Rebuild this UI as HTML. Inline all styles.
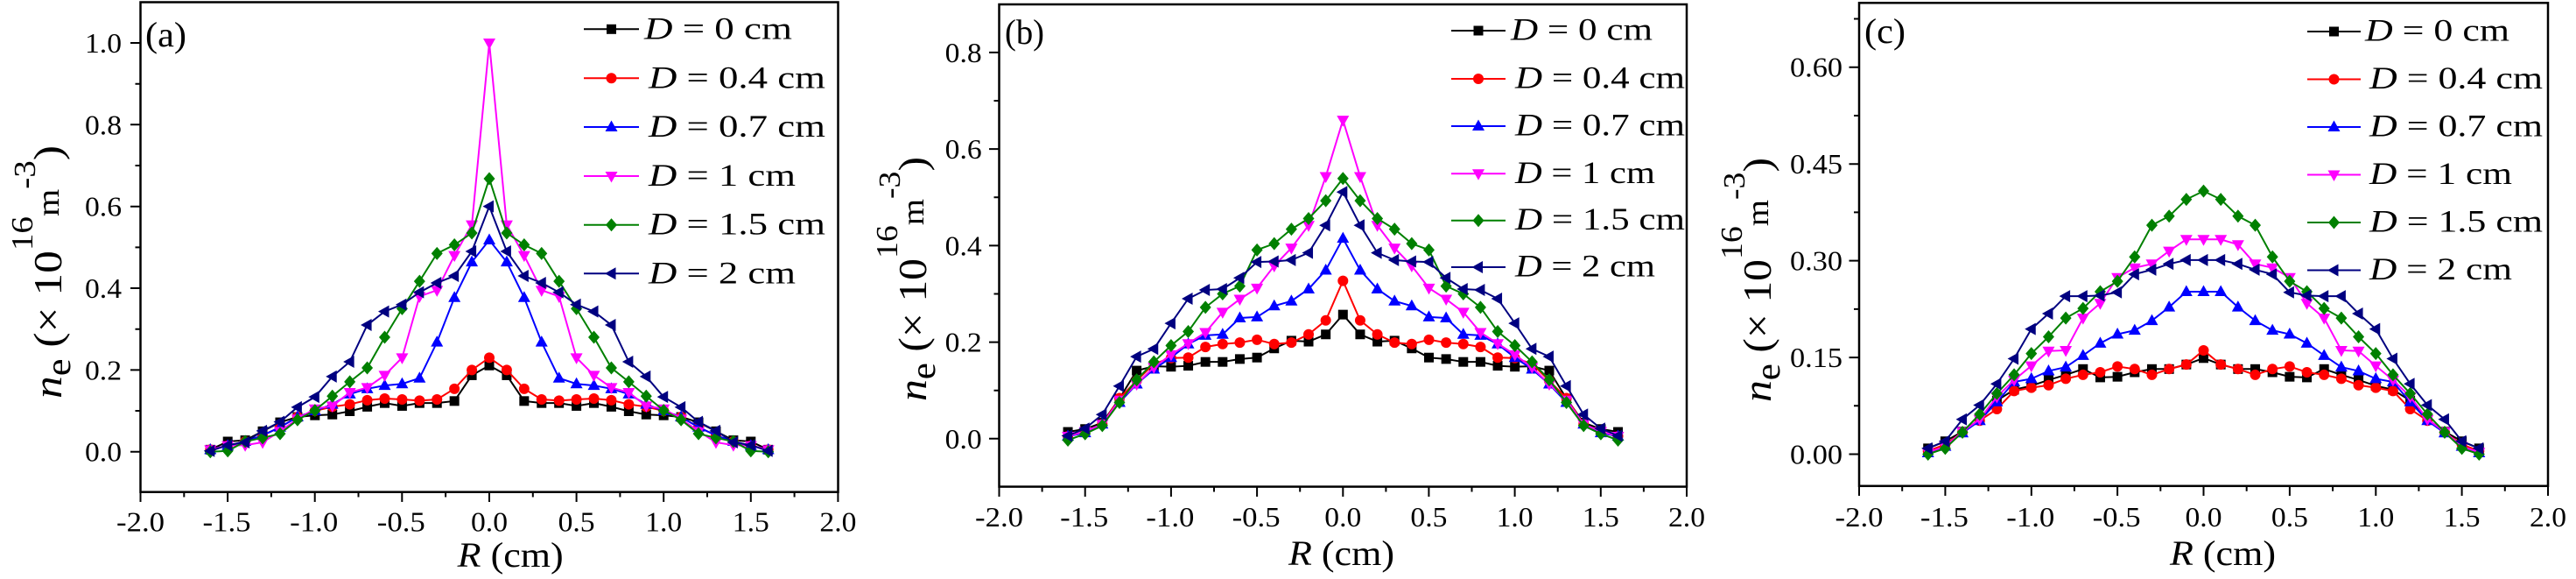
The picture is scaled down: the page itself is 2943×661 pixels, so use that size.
<!DOCTYPE html>
<html><head><meta charset="utf-8"><style>
html,body{margin:0;padding:0;background:#fff;}
svg{display:block;font-family:"Liberation Serif","Times New Roman",serif;}
svg text{font-family:"Liberation Serif","Times New Roman",serif;}
</style></head><body>
<svg width="2943" height="661" viewBox="0 0 2943 661" xmlns="http://www.w3.org/2000/svg" font-family="Liberation Serif, Times New Roman, serif">
<defs>
<rect id="sq" x="-5.5" y="-5.5" width="11" height="11"/>
<circle id="ci" r="6"/>
<path id="tu" d="M0,-7.5L7,5L-7,5Z"/>
<path id="td" d="M0,7.5L7,-5L-7,-5Z"/>
<path id="di" d="M0,-7.5L6.5,0L0,7.5L-6.5,0Z"/>
<path id="tl" d="M-7.5,0L5,-7L5,7Z"/>
<g id="aS" transform="scale(0.050201,-2.1427)"><use href="#sq"/></g>
<g id="aC" transform="scale(0.050201,-2.1427)"><use href="#ci"/></g>
<g id="aU" transform="scale(0.050201,-2.1427)"><use href="#tu"/></g>
<g id="aD" transform="scale(0.050201,-2.1427)"><use href="#td"/></g>
<g id="aM" transform="scale(0.050201,-2.1427)"><use href="#di"/></g>
<g id="aL" transform="scale(0.050201,-2.1427)"><use href="#tl"/></g>
<g id="bS" transform="scale(0.050916,-1.81455)"><use href="#sq"/></g>
<g id="bC" transform="scale(0.050916,-1.81455)"><use href="#ci"/></g>
<g id="bU" transform="scale(0.050916,-1.81455)"><use href="#tu"/></g>
<g id="bD" transform="scale(0.050916,-1.81455)"><use href="#td"/></g>
<g id="bM" transform="scale(0.050916,-1.81455)"><use href="#di"/></g>
<g id="bL" transform="scale(0.050916,-1.81455)"><use href="#tl"/></g>
<g id="cS" transform="scale(0.050826,-1.35814)"><use href="#sq"/></g>
<g id="cC" transform="scale(0.050826,-1.35814)"><use href="#ci"/></g>
<g id="cU" transform="scale(0.050826,-1.35814)"><use href="#tu"/></g>
<g id="cD" transform="scale(0.050826,-1.35814)"><use href="#td"/></g>
<g id="cM" transform="scale(0.050826,-1.35814)"><use href="#di"/></g>
<g id="cL" transform="scale(0.050826,-1.35814)"><use href="#tl"/></g>
</defs>
<rect width="2943" height="661" fill="#fff"/>

<!-- ================= PANEL A ================= -->
<g stroke="#000" fill="none" stroke-width="2.5">
<rect x="160.5" y="2.5" width="797" height="559.2"/>
<path d="M160.5,561.7V573M260.1,561.7V573M359.7,561.7V573M459.3,561.7V573M559,561.7V573M658.6,561.7V573M758.2,561.7V573M857.8,561.7V573M957.4,561.7V573" stroke-width="2"/>
<path d="M210.3,561.7V567.5M309.9,561.7V567.5M409.5,561.7V567.5M509.1,561.7V567.5M608.8,561.7V567.5M708.4,561.7V567.5M808,561.7V567.5M907.6,561.7V567.5" stroke-width="2"/>
<path d="M149,515.7H160.5M149,422.4H160.5M149,329H160.5M149,235.7H160.5M149,142.3H160.5M149,49H160.5" stroke-width="2"/>
<path d="M154.5,469H160.5M154.5,375.7H160.5M154.5,282.4H160.5M154.5,189H160.5M154.5,95.7H160.5" stroke-width="2"/>
</g>
<g font-size="32" fill="#000" text-anchor="middle" font-family="Liberation Serif, serif">
<text x="160.5" y="606.7" textLength="55" lengthAdjust="spacingAndGlyphs">-2.0</text>
<text x="259" y="606.7" textLength="55" lengthAdjust="spacingAndGlyphs">-1.5</text>
<text x="358.7" y="606.7" textLength="55" lengthAdjust="spacingAndGlyphs">-1.0</text>
<text x="458.3" y="606.7" textLength="55" lengthAdjust="spacingAndGlyphs">-0.5</text>
<text x="559" y="606.7" textLength="42" lengthAdjust="spacingAndGlyphs">0.0</text>
<text x="658.6" y="606.7" textLength="42" lengthAdjust="spacingAndGlyphs">0.5</text>
<text x="758.2" y="606.7" textLength="42" lengthAdjust="spacingAndGlyphs">1.0</text>
<text x="857.8" y="606.7" textLength="42" lengthAdjust="spacingAndGlyphs">1.5</text>
<text x="957.4" y="606.7" textLength="42" lengthAdjust="spacingAndGlyphs">2.0</text>
</g>
<g font-size="32" fill="#000" text-anchor="end" font-family="Liberation Serif, serif">
<text x="139" y="526.7" textLength="42" lengthAdjust="spacingAndGlyphs">0.0</text>
<text x="139" y="433.4" textLength="42" lengthAdjust="spacingAndGlyphs">0.2</text>
<text x="139" y="340" textLength="42" lengthAdjust="spacingAndGlyphs">0.4</text>
<text x="139" y="246.7" textLength="42" lengthAdjust="spacingAndGlyphs">0.6</text>
<text x="139" y="153.3" textLength="42" lengthAdjust="spacingAndGlyphs">0.8</text>
<text x="139" y="60" textLength="42" lengthAdjust="spacingAndGlyphs">1.0</text>
</g>
<g font-family="Liberation Serif, serif" fill="#000">
<text x="166" y="53" font-size="40" textLength="47" lengthAdjust="spacingAndGlyphs">(a)</text>
<text x="522.7" y="647" font-size="40" textLength="121" lengthAdjust="spacingAndGlyphs"><tspan font-style="italic">R</tspan> (cm)</text>
<text transform="translate(70,455) rotate(-90)" font-size="46" textLength="289" lengthAdjust="spacingAndGlyphs"><tspan font-style="italic">n</tspan><tspan dy="10" font-size="40">e</tspan><tspan dy="-10"> (× 10</tspan><tspan dy="-33" font-size="35">16</tspan><tspan dy="30" font-size="36">m</tspan><tspan dy="-27" font-size="35">-3</tspan><tspan dy="30">)</tspan></text>
</g>

<g transform="translate(559,515.7) scale(19.92,-0.4667)">
<g fill="#000"><polyline fill="none" stroke="#000" stroke-width="2" vector-effect="non-scaling-stroke" points="-16,5 -15,25 -14,28 -13,50 -12,72 -11,85 -10,89 -9,91 -8,99 -7,110 -6,119 -5,112 -4,119 -3,119 -2,124 -1,187 0,211 1,187 2,124 3,119 4,119 5,112 6,119 7,110 8,99 9,91 10,89 11,85 12,72 13,50 14,28 15,25 16,5"/>
<use href="#aS" x="-16" y="5"/><use href="#aS" x="-15" y="25"/><use href="#aS" x="-14" y="28"/><use href="#aS" x="-13" y="50"/><use href="#aS" x="-12" y="72"/><use href="#aS" x="-11" y="85"/><use href="#aS" x="-10" y="89"/><use href="#aS" x="-9" y="91"/><use href="#aS" x="-8" y="99"/><use href="#aS" x="-7" y="110"/><use href="#aS" x="-6" y="119"/><use href="#aS" x="-5" y="112"/><use href="#aS" x="-4" y="119"/><use href="#aS" x="-3" y="119"/><use href="#aS" x="-2" y="124"/><use href="#aS" x="-1" y="187"/><use href="#aS" x="0" y="211"/><use href="#aS" x="1" y="187"/><use href="#aS" x="2" y="124"/><use href="#aS" x="3" y="119"/><use href="#aS" x="4" y="119"/><use href="#aS" x="5" y="112"/><use href="#aS" x="6" y="119"/><use href="#aS" x="7" y="110"/><use href="#aS" x="8" y="99"/><use href="#aS" x="9" y="91"/><use href="#aS" x="10" y="89"/><use href="#aS" x="11" y="85"/><use href="#aS" x="12" y="72"/><use href="#aS" x="13" y="50"/><use href="#aS" x="14" y="28"/><use href="#aS" x="15" y="25"/><use href="#aS" x="16" y="5"/></g>
<g fill="#ff0000"><polyline fill="none" stroke="#ff0000" stroke-width="2" vector-effect="non-scaling-stroke" points="-16,5 -15,15 -14,25 -13,40 -12,60 -11,85 -10,100 -9,110 -8,116 -7,126 -6,130 -5,128 -4,125 -3,128 -2,154 -1,200 0,230 1,200 2,154 3,128 4,125 5,128 6,130 7,126 8,116 9,110 10,100 11,85 12,60 13,40 14,25 15,15 16,5"/>
<use href="#aC" x="-16" y="5"/><use href="#aC" x="-15" y="15"/><use href="#aC" x="-14" y="25"/><use href="#aC" x="-13" y="40"/><use href="#aC" x="-12" y="60"/><use href="#aC" x="-11" y="85"/><use href="#aC" x="-10" y="100"/><use href="#aC" x="-9" y="110"/><use href="#aC" x="-8" y="116"/><use href="#aC" x="-7" y="126"/><use href="#aC" x="-6" y="130"/><use href="#aC" x="-5" y="128"/><use href="#aC" x="-4" y="125"/><use href="#aC" x="-3" y="128"/><use href="#aC" x="-2" y="154"/><use href="#aC" x="-1" y="200"/><use href="#aC" x="0" y="230"/><use href="#aC" x="1" y="200"/><use href="#aC" x="2" y="154"/><use href="#aC" x="3" y="128"/><use href="#aC" x="4" y="125"/><use href="#aC" x="5" y="128"/><use href="#aC" x="6" y="130"/><use href="#aC" x="7" y="126"/><use href="#aC" x="8" y="116"/><use href="#aC" x="9" y="110"/><use href="#aC" x="10" y="100"/><use href="#aC" x="11" y="85"/><use href="#aC" x="12" y="60"/><use href="#aC" x="13" y="40"/><use href="#aC" x="14" y="25"/><use href="#aC" x="15" y="15"/><use href="#aC" x="16" y="5"/></g>
<g fill="#0000ff"><polyline fill="none" stroke="#0000ff" stroke-width="2" vector-effect="non-scaling-stroke" points="-16,5 -15,15 -14,25 -13,40 -12,60 -11,85 -10,100 -9,116 -8,141 -7,154 -6,162 -5,166 -4,180 -3,268 -2,377 -1,464 0,518 1,464 2,377 3,268 4,180 5,166 6,162 7,154 8,141 9,116 10,100 11,85 12,60 13,40 14,25 15,15 16,5"/>
<use href="#aU" x="-16" y="5"/><use href="#aU" x="-15" y="15"/><use href="#aU" x="-14" y="25"/><use href="#aU" x="-13" y="40"/><use href="#aU" x="-12" y="60"/><use href="#aU" x="-11" y="85"/><use href="#aU" x="-10" y="100"/><use href="#aU" x="-9" y="116"/><use href="#aU" x="-8" y="141"/><use href="#aU" x="-7" y="154"/><use href="#aU" x="-6" y="162"/><use href="#aU" x="-5" y="166"/><use href="#aU" x="-4" y="180"/><use href="#aU" x="-3" y="268"/><use href="#aU" x="-2" y="377"/><use href="#aU" x="-1" y="464"/><use href="#aU" x="0" y="518"/><use href="#aU" x="1" y="464"/><use href="#aU" x="2" y="377"/><use href="#aU" x="3" y="268"/><use href="#aU" x="4" y="180"/><use href="#aU" x="5" y="166"/><use href="#aU" x="6" y="162"/><use href="#aU" x="7" y="154"/><use href="#aU" x="8" y="141"/><use href="#aU" x="9" y="116"/><use href="#aU" x="10" y="100"/><use href="#aU" x="11" y="85"/><use href="#aU" x="12" y="60"/><use href="#aU" x="13" y="40"/><use href="#aU" x="14" y="25"/><use href="#aU" x="15" y="15"/><use href="#aU" x="16" y="5"/></g>
<g fill="#ff00ff"><polyline fill="none" stroke="#ff00ff" stroke-width="2" vector-effect="non-scaling-stroke" points="-16,5 -15,15 -14,16 -13,23 -12,50 -11,80 -10,105 -9,112 -8,145 -7,157 -6,187 -5,230 -4,380 -3,395 -2,480 -1,555 0,1000 1,555 2,480 3,395 4,380 5,230 6,187 7,157 8,145 9,112 10,105 11,80 12,50 13,23 14,16 15,15 16,5"/>
<use href="#aD" x="-16" y="5"/><use href="#aD" x="-15" y="15"/><use href="#aD" x="-14" y="16"/><use href="#aD" x="-13" y="23"/><use href="#aD" x="-12" y="50"/><use href="#aD" x="-11" y="80"/><use href="#aD" x="-10" y="105"/><use href="#aD" x="-9" y="112"/><use href="#aD" x="-8" y="145"/><use href="#aD" x="-7" y="157"/><use href="#aD" x="-6" y="187"/><use href="#aD" x="-5" y="230"/><use href="#aD" x="-4" y="380"/><use href="#aD" x="-3" y="395"/><use href="#aD" x="-2" y="480"/><use href="#aD" x="-1" y="555"/><use href="#aD" x="0" y="1000"/><use href="#aD" x="1" y="555"/><use href="#aD" x="2" y="480"/><use href="#aD" x="3" y="395"/><use href="#aD" x="4" y="380"/><use href="#aD" x="5" y="230"/><use href="#aD" x="6" y="187"/><use href="#aD" x="7" y="157"/><use href="#aD" x="8" y="145"/><use href="#aD" x="9" y="112"/><use href="#aD" x="10" y="105"/><use href="#aD" x="11" y="80"/><use href="#aD" x="12" y="50"/><use href="#aD" x="13" y="23"/><use href="#aD" x="14" y="16"/><use href="#aD" x="15" y="15"/><use href="#aD" x="16" y="5"/></g>
<g fill="#008000"><polyline fill="none" stroke="#008000" stroke-width="2" vector-effect="non-scaling-stroke" points="-16,0 -15,2 -14,25 -13,34 -12,44 -11,78 -10,101 -9,136 -8,171 -7,205 -6,280 -5,350 -4,417 -3,485 -2,506 -1,535 0,668 1,535 2,506 3,485 4,417 5,350 6,280 7,205 8,171 9,136 10,101 11,78 12,44 13,34 14,25 15,2 16,0"/>
<use href="#aM" x="-16" y="0"/><use href="#aM" x="-15" y="2"/><use href="#aM" x="-14" y="25"/><use href="#aM" x="-13" y="34"/><use href="#aM" x="-12" y="44"/><use href="#aM" x="-11" y="78"/><use href="#aM" x="-10" y="101"/><use href="#aM" x="-9" y="136"/><use href="#aM" x="-8" y="171"/><use href="#aM" x="-7" y="205"/><use href="#aM" x="-6" y="280"/><use href="#aM" x="-5" y="350"/><use href="#aM" x="-4" y="417"/><use href="#aM" x="-3" y="485"/><use href="#aM" x="-2" y="506"/><use href="#aM" x="-1" y="535"/><use href="#aM" x="0" y="668"/><use href="#aM" x="1" y="535"/><use href="#aM" x="2" y="506"/><use href="#aM" x="3" y="485"/><use href="#aM" x="4" y="417"/><use href="#aM" x="5" y="350"/><use href="#aM" x="6" y="280"/><use href="#aM" x="7" y="205"/><use href="#aM" x="8" y="171"/><use href="#aM" x="9" y="136"/><use href="#aM" x="10" y="101"/><use href="#aM" x="11" y="78"/><use href="#aM" x="12" y="44"/><use href="#aM" x="13" y="34"/><use href="#aM" x="14" y="25"/><use href="#aM" x="15" y="2"/><use href="#aM" x="16" y="0"/></g>
<g fill="#000080"><polyline fill="none" stroke="#000080" stroke-width="2" vector-effect="non-scaling-stroke" points="-16,2 -15,16 -14,23 -13,51 -12,73 -11,109 -10,134 -9,184 -8,220 -7,310 -6,343 -5,360 -4,390 -3,413 -2,430 -1,490 0,600 1,490 2,430 3,413 4,390 5,360 6,343 7,310 8,220 9,184 10,134 11,109 12,73 13,51 14,23 15,16 16,2"/>
<use href="#aL" x="-16" y="2"/><use href="#aL" x="-15" y="16"/><use href="#aL" x="-14" y="23"/><use href="#aL" x="-13" y="51"/><use href="#aL" x="-12" y="73"/><use href="#aL" x="-11" y="109"/><use href="#aL" x="-10" y="134"/><use href="#aL" x="-9" y="184"/><use href="#aL" x="-8" y="220"/><use href="#aL" x="-7" y="310"/><use href="#aL" x="-6" y="343"/><use href="#aL" x="-5" y="360"/><use href="#aL" x="-4" y="390"/><use href="#aL" x="-3" y="413"/><use href="#aL" x="-2" y="430"/><use href="#aL" x="-1" y="490"/><use href="#aL" x="0" y="600"/><use href="#aL" x="1" y="490"/><use href="#aL" x="2" y="430"/><use href="#aL" x="3" y="413"/><use href="#aL" x="4" y="390"/><use href="#aL" x="5" y="360"/><use href="#aL" x="6" y="343"/><use href="#aL" x="7" y="310"/><use href="#aL" x="8" y="220"/><use href="#aL" x="9" y="184"/><use href="#aL" x="10" y="134"/><use href="#aL" x="11" y="109"/><use href="#aL" x="12" y="73"/><use href="#aL" x="13" y="51"/><use href="#aL" x="14" y="23"/><use href="#aL" x="15" y="16"/><use href="#aL" x="16" y="2"/></g>
</g>

<!-- legend A -->
<g stroke-width="2">
<line x1="667" y1="33.3" x2="730" y2="33.3" stroke="#000"/>
<line x1="667" y1="89.3" x2="730" y2="89.3" stroke="#ff0000"/>
<line x1="667" y1="145" x2="730" y2="145" stroke="#0000ff"/>
<line x1="667" y1="201" x2="730" y2="201" stroke="#ff00ff"/>
<line x1="667" y1="256.7" x2="730" y2="256.7" stroke="#008000"/>
<line x1="667" y1="312.3" x2="730" y2="312.3" stroke="#000080"/>
</g>
<use href="#sq" x="698.5" y="33.3" fill="#000"/>
<use href="#ci" x="698.5" y="89.3" fill="#ff0000"/>
<use href="#tu" x="698.5" y="145" fill="#0000ff"/>
<use href="#td" x="698.5" y="201" fill="#ff00ff"/>
<use href="#di" x="698.5" y="256.7" fill="#008000"/>
<use href="#tl" x="698.5" y="312.3" fill="#000080"/>
<g font-size="36" fill="#000" font-family="Liberation Serif, serif">
<text x="736" y="44.3" textLength="169" lengthAdjust="spacingAndGlyphs"><tspan font-style="italic">D</tspan> = 0 cm</text>
<text x="741" y="100.3" textLength="202" lengthAdjust="spacingAndGlyphs"><tspan font-style="italic">D</tspan> = 0.4 cm</text>
<text x="741" y="156" textLength="202" lengthAdjust="spacingAndGlyphs"><tspan font-style="italic">D</tspan> = 0.7 cm</text>
<text x="741" y="212" textLength="168" lengthAdjust="spacingAndGlyphs"><tspan font-style="italic">D</tspan> = 1 cm</text>
<text x="741" y="267.7" textLength="202" lengthAdjust="spacingAndGlyphs"><tspan font-style="italic">D</tspan> = 1.5 cm</text>
<text x="741" y="323.3" textLength="168" lengthAdjust="spacingAndGlyphs"><tspan font-style="italic">D</tspan> = 2 cm</text>
</g>

<!-- ================= PANEL B ================= -->
<g stroke="#000" fill="none" stroke-width="2.5">
<rect x="1141.5" y="5" width="785.5" height="550.6"/>
<path d="M1141.5,555.6V567M1239.7,555.6V567M1337.9,555.6V567M1436.1,555.6V567M1534.3,555.6V567M1632.4,555.6V567M1730.6,555.6V567M1828.8,555.6V567M1927,555.6V567" stroke-width="2"/>
<path d="M1190.6,555.6V561.5M1288.8,555.6V561.5M1387,555.6V561.5M1485.2,555.6V561.5M1583.4,555.6V561.5M1681.5,555.6V561.5M1779.7,555.6V561.5M1877.9,555.6V561.5" stroke-width="2"/>
<path d="M1130,500.8H1141.5M1130,390.6H1141.5M1130,280.4H1141.5M1130,170.1H1141.5M1130,59.9H1141.5" stroke-width="2"/>
<path d="M1135.5,445.7H1141.5M1135.5,335.5H1141.5M1135.5,225.2H1141.5M1135.5,115H1141.5" stroke-width="2"/>
</g>
<g font-size="32" fill="#000" text-anchor="middle" font-family="Liberation Serif, serif">
<text x="1141.5" y="601" textLength="55" lengthAdjust="spacingAndGlyphs">-2.0</text>
<text x="1238.7" y="601" textLength="55" lengthAdjust="spacingAndGlyphs">-1.5</text>
<text x="1336.9" y="601" textLength="55" lengthAdjust="spacingAndGlyphs">-1.0</text>
<text x="1435.1" y="601" textLength="55" lengthAdjust="spacingAndGlyphs">-0.5</text>
<text x="1534.3" y="601" textLength="42" lengthAdjust="spacingAndGlyphs">0.0</text>
<text x="1632.4" y="601" textLength="42" lengthAdjust="spacingAndGlyphs">0.5</text>
<text x="1730.6" y="601" textLength="42" lengthAdjust="spacingAndGlyphs">1.0</text>
<text x="1828.8" y="601" textLength="42" lengthAdjust="spacingAndGlyphs">1.5</text>
<text x="1927" y="601" textLength="42" lengthAdjust="spacingAndGlyphs">2.0</text>
</g>
<g font-size="32" fill="#000" text-anchor="end" font-family="Liberation Serif, serif">
<text x="1121.7" y="511.8" textLength="42" lengthAdjust="spacingAndGlyphs">0.0</text>
<text x="1121.7" y="401.6" textLength="42" lengthAdjust="spacingAndGlyphs">0.2</text>
<text x="1121.7" y="291.4" textLength="42" lengthAdjust="spacingAndGlyphs">0.4</text>
<text x="1121.7" y="181.1" textLength="42" lengthAdjust="spacingAndGlyphs">0.6</text>
<text x="1121.7" y="70.9" textLength="42" lengthAdjust="spacingAndGlyphs">0.8</text>
</g>
<g font-family="Liberation Serif, serif" fill="#000">
<text x="1148" y="50" font-size="40" textLength="45" lengthAdjust="spacingAndGlyphs">(b)</text>
<text x="1472" y="645" font-size="40" textLength="121" lengthAdjust="spacingAndGlyphs"><tspan font-style="italic">R</tspan> (cm)</text>
<text transform="translate(1058,458) rotate(-90)" font-size="46" textLength="279" lengthAdjust="spacingAndGlyphs"><tspan font-style="italic">n</tspan><tspan dy="10" font-size="40">e</tspan><tspan dy="-10"> (× 10</tspan><tspan dy="-33" font-size="35">16</tspan><tspan dy="30" font-size="36">m</tspan><tspan dy="-27" font-size="35">-3</tspan><tspan dy="30">)</tspan></text>
</g>

<g transform="translate(1534.3,500.8) scale(19.64,-0.5511)">
<g fill="#000"><polyline fill="none" stroke="#000" stroke-width="2" vector-effect="non-scaling-stroke" points="-16,14 -15,20 -14,33 -13,83 -12,141 -11,150 -10,149 -9,151 -8,159 -7,159 -6,165 -5,168 -4,187 -3,203 -2,201 -1,216 0,257 1,216 2,201 3,203 4,187 5,168 6,165 7,159 8,159 9,151 10,149 11,150 12,141 13,83 14,33 15,20 16,14"/>
<use href="#bS" x="-16" y="14"/><use href="#bS" x="-15" y="20"/><use href="#bS" x="-14" y="33"/><use href="#bS" x="-13" y="83"/><use href="#bS" x="-12" y="141"/><use href="#bS" x="-11" y="150"/><use href="#bS" x="-10" y="149"/><use href="#bS" x="-9" y="151"/><use href="#bS" x="-8" y="159"/><use href="#bS" x="-7" y="159"/><use href="#bS" x="-6" y="165"/><use href="#bS" x="-5" y="168"/><use href="#bS" x="-4" y="187"/><use href="#bS" x="-3" y="203"/><use href="#bS" x="-2" y="201"/><use href="#bS" x="-1" y="216"/><use href="#bS" x="0" y="257"/><use href="#bS" x="1" y="216"/><use href="#bS" x="2" y="201"/><use href="#bS" x="3" y="203"/><use href="#bS" x="4" y="187"/><use href="#bS" x="5" y="168"/><use href="#bS" x="6" y="165"/><use href="#bS" x="7" y="159"/><use href="#bS" x="8" y="159"/><use href="#bS" x="9" y="151"/><use href="#bS" x="10" y="149"/><use href="#bS" x="11" y="150"/><use href="#bS" x="12" y="141"/><use href="#bS" x="13" y="83"/><use href="#bS" x="14" y="33"/><use href="#bS" x="15" y="20"/><use href="#bS" x="16" y="14"/></g>
<g fill="#ff0000"><polyline fill="none" stroke="#ff0000" stroke-width="2" vector-effect="non-scaling-stroke" points="-16,5 -15,15 -14,30 -13,84 -12,120 -11,155 -10,167 -9,168 -8,190 -7,196 -6,199 -5,205 -4,196 -3,199 -2,216 -1,245 0,327 1,245 2,216 3,199 4,196 5,205 6,199 7,196 8,190 9,168 10,167 11,155 12,120 13,84 14,30 15,15 16,5"/>
<use href="#bC" x="-16" y="5"/><use href="#bC" x="-15" y="15"/><use href="#bC" x="-14" y="30"/><use href="#bC" x="-13" y="84"/><use href="#bC" x="-12" y="120"/><use href="#bC" x="-11" y="155"/><use href="#bC" x="-10" y="167"/><use href="#bC" x="-9" y="168"/><use href="#bC" x="-8" y="190"/><use href="#bC" x="-7" y="196"/><use href="#bC" x="-6" y="199"/><use href="#bC" x="-5" y="205"/><use href="#bC" x="-4" y="196"/><use href="#bC" x="-3" y="199"/><use href="#bC" x="-2" y="216"/><use href="#bC" x="-1" y="245"/><use href="#bC" x="0" y="327"/><use href="#bC" x="1" y="245"/><use href="#bC" x="2" y="216"/><use href="#bC" x="3" y="199"/><use href="#bC" x="4" y="196"/><use href="#bC" x="5" y="205"/><use href="#bC" x="6" y="199"/><use href="#bC" x="7" y="196"/><use href="#bC" x="8" y="190"/><use href="#bC" x="9" y="168"/><use href="#bC" x="10" y="167"/><use href="#bC" x="11" y="155"/><use href="#bC" x="12" y="120"/><use href="#bC" x="13" y="84"/><use href="#bC" x="14" y="30"/><use href="#bC" x="15" y="15"/><use href="#bC" x="16" y="5"/></g>
<g fill="#0000ff"><polyline fill="none" stroke="#0000ff" stroke-width="2" vector-effect="non-scaling-stroke" points="-16,5 -15,12 -14,30 -13,75 -12,113 -11,144 -10,168 -9,196 -8,214 -7,216 -6,250 -5,252 -4,275 -3,285 -2,310 -1,349 0,415 1,349 2,310 3,285 4,275 5,252 6,250 7,216 8,214 9,196 10,168 11,144 12,113 13,75 14,30 15,12 16,5"/>
<use href="#bU" x="-16" y="5"/><use href="#bU" x="-15" y="12"/><use href="#bU" x="-14" y="30"/><use href="#bU" x="-13" y="75"/><use href="#bU" x="-12" y="113"/><use href="#bU" x="-11" y="144"/><use href="#bU" x="-10" y="168"/><use href="#bU" x="-9" y="196"/><use href="#bU" x="-8" y="214"/><use href="#bU" x="-7" y="216"/><use href="#bU" x="-6" y="250"/><use href="#bU" x="-5" y="252"/><use href="#bU" x="-4" y="275"/><use href="#bU" x="-3" y="285"/><use href="#bU" x="-2" y="310"/><use href="#bU" x="-1" y="349"/><use href="#bU" x="0" y="415"/><use href="#bU" x="1" y="349"/><use href="#bU" x="2" y="310"/><use href="#bU" x="3" y="285"/><use href="#bU" x="4" y="275"/><use href="#bU" x="5" y="252"/><use href="#bU" x="6" y="250"/><use href="#bU" x="7" y="216"/><use href="#bU" x="8" y="214"/><use href="#bU" x="9" y="196"/><use href="#bU" x="10" y="168"/><use href="#bU" x="11" y="144"/><use href="#bU" x="12" y="113"/><use href="#bU" x="13" y="75"/><use href="#bU" x="14" y="30"/><use href="#bU" x="15" y="12"/><use href="#bU" x="16" y="5"/></g>
<g fill="#ff00ff"><polyline fill="none" stroke="#ff00ff" stroke-width="2" vector-effect="non-scaling-stroke" points="-16,5 -15,15 -14,30 -13,80 -12,113 -11,148 -10,174 -9,197 -8,220 -7,262 -6,289 -5,312 -4,358 -3,395 -2,442 -1,543 0,660 1,543 2,442 3,395 4,358 5,312 6,289 7,262 8,220 9,197 10,174 11,148 12,113 13,80 14,30 15,15 16,5"/>
<use href="#bD" x="-16" y="5"/><use href="#bD" x="-15" y="15"/><use href="#bD" x="-14" y="30"/><use href="#bD" x="-13" y="80"/><use href="#bD" x="-12" y="113"/><use href="#bD" x="-11" y="148"/><use href="#bD" x="-10" y="174"/><use href="#bD" x="-9" y="197"/><use href="#bD" x="-8" y="220"/><use href="#bD" x="-7" y="262"/><use href="#bD" x="-6" y="289"/><use href="#bD" x="-5" y="312"/><use href="#bD" x="-4" y="358"/><use href="#bD" x="-3" y="395"/><use href="#bD" x="-2" y="442"/><use href="#bD" x="-1" y="543"/><use href="#bD" x="0" y="660"/><use href="#bD" x="1" y="543"/><use href="#bD" x="2" y="442"/><use href="#bD" x="3" y="395"/><use href="#bD" x="4" y="358"/><use href="#bD" x="5" y="312"/><use href="#bD" x="6" y="289"/><use href="#bD" x="7" y="262"/><use href="#bD" x="8" y="220"/><use href="#bD" x="9" y="197"/><use href="#bD" x="10" y="174"/><use href="#bD" x="11" y="148"/><use href="#bD" x="12" y="113"/><use href="#bD" x="13" y="80"/><use href="#bD" x="14" y="30"/><use href="#bD" x="15" y="15"/><use href="#bD" x="16" y="5"/></g>
<g fill="#008000"><polyline fill="none" stroke="#008000" stroke-width="2" vector-effect="non-scaling-stroke" points="-16,-3 -15,10 -14,27 -13,75 -12,122 -11,159 -10,193 -9,222 -8,272 -7,300 -6,316 -5,391 -4,404 -3,434 -2,456 -1,493 0,539 1,493 2,456 3,434 4,404 5,391 6,316 7,300 8,272 9,222 10,193 11,159 12,122 13,75 14,27 15,10 16,-3"/>
<use href="#bM" x="-16" y="-3"/><use href="#bM" x="-15" y="10"/><use href="#bM" x="-14" y="27"/><use href="#bM" x="-13" y="75"/><use href="#bM" x="-12" y="122"/><use href="#bM" x="-11" y="159"/><use href="#bM" x="-10" y="193"/><use href="#bM" x="-9" y="222"/><use href="#bM" x="-8" y="272"/><use href="#bM" x="-7" y="300"/><use href="#bM" x="-6" y="316"/><use href="#bM" x="-5" y="391"/><use href="#bM" x="-4" y="404"/><use href="#bM" x="-3" y="434"/><use href="#bM" x="-2" y="456"/><use href="#bM" x="-1" y="493"/><use href="#bM" x="0" y="539"/><use href="#bM" x="1" y="493"/><use href="#bM" x="2" y="456"/><use href="#bM" x="3" y="434"/><use href="#bM" x="4" y="404"/><use href="#bM" x="5" y="391"/><use href="#bM" x="6" y="316"/><use href="#bM" x="7" y="300"/><use href="#bM" x="8" y="272"/><use href="#bM" x="9" y="222"/><use href="#bM" x="10" y="193"/><use href="#bM" x="11" y="159"/><use href="#bM" x="12" y="122"/><use href="#bM" x="13" y="75"/><use href="#bM" x="14" y="27"/><use href="#bM" x="15" y="10"/><use href="#bM" x="16" y="-3"/></g>
<g fill="#000080"><polyline fill="none" stroke="#000080" stroke-width="2" vector-effect="non-scaling-stroke" points="-16,6 -15,21 -14,50 -13,109 -12,170 -11,186 -10,239 -9,290 -8,308 -7,310 -6,333 -5,366 -4,367 -3,370 -2,385 -1,442 0,511 1,442 2,385 3,370 4,367 5,366 6,333 7,310 8,308 9,290 10,239 11,186 12,170 13,109 14,50 15,21 16,6"/>
<use href="#bL" x="-16" y="6"/><use href="#bL" x="-15" y="21"/><use href="#bL" x="-14" y="50"/><use href="#bL" x="-13" y="109"/><use href="#bL" x="-12" y="170"/><use href="#bL" x="-11" y="186"/><use href="#bL" x="-10" y="239"/><use href="#bL" x="-9" y="290"/><use href="#bL" x="-8" y="308"/><use href="#bL" x="-7" y="310"/><use href="#bL" x="-6" y="333"/><use href="#bL" x="-5" y="366"/><use href="#bL" x="-4" y="367"/><use href="#bL" x="-3" y="370"/><use href="#bL" x="-2" y="385"/><use href="#bL" x="-1" y="442"/><use href="#bL" x="0" y="511"/><use href="#bL" x="1" y="442"/><use href="#bL" x="2" y="385"/><use href="#bL" x="3" y="370"/><use href="#bL" x="4" y="367"/><use href="#bL" x="5" y="366"/><use href="#bL" x="6" y="333"/><use href="#bL" x="7" y="310"/><use href="#bL" x="8" y="308"/><use href="#bL" x="9" y="290"/><use href="#bL" x="10" y="239"/><use href="#bL" x="11" y="186"/><use href="#bL" x="12" y="170"/><use href="#bL" x="13" y="109"/><use href="#bL" x="14" y="50"/><use href="#bL" x="15" y="21"/><use href="#bL" x="16" y="6"/></g>
</g>

<!-- legend B -->
<g stroke-width="2">
<line x1="1658" y1="35" x2="1720" y2="35" stroke="#000"/>
<line x1="1658" y1="90" x2="1720" y2="90" stroke="#ff0000"/>
<line x1="1658" y1="144" x2="1720" y2="144" stroke="#0000ff"/>
<line x1="1658" y1="198.3" x2="1720" y2="198.3" stroke="#ff00ff"/>
<line x1="1658" y1="251.7" x2="1720" y2="251.7" stroke="#008000"/>
<line x1="1658" y1="305" x2="1720" y2="305" stroke="#000080"/>
</g>
<use href="#sq" x="1689" y="35" fill="#000"/>
<use href="#ci" x="1689" y="90" fill="#ff0000"/>
<use href="#tu" x="1689" y="144" fill="#0000ff"/>
<use href="#td" x="1689" y="198.3" fill="#ff00ff"/>
<use href="#di" x="1689" y="251.7" fill="#008000"/>
<use href="#tl" x="1689" y="305" fill="#000080"/>
<g font-size="36" fill="#000" font-family="Liberation Serif, serif">
<text x="1726" y="45.5" textLength="162" lengthAdjust="spacingAndGlyphs"><tspan font-style="italic">D</tspan> = 0 cm</text>
<text x="1731" y="100.5" textLength="194" lengthAdjust="spacingAndGlyphs"><tspan font-style="italic">D</tspan> = 0.4 cm</text>
<text x="1731" y="154.5" textLength="194" lengthAdjust="spacingAndGlyphs"><tspan font-style="italic">D</tspan> = 0.7 cm</text>
<text x="1731" y="208.8" textLength="160" lengthAdjust="spacingAndGlyphs"><tspan font-style="italic">D</tspan> = 1 cm</text>
<text x="1731" y="262.2" textLength="194" lengthAdjust="spacingAndGlyphs"><tspan font-style="italic">D</tspan> = 1.5 cm</text>
<text x="1731" y="315.5" textLength="160" lengthAdjust="spacingAndGlyphs"><tspan font-style="italic">D</tspan> = 2 cm</text>
</g>

<!-- ================= PANEL C ================= -->
<g stroke="#000" fill="none" stroke-width="2.5">
<rect x="2124" y="3.3" width="787" height="551.5"/>
<path d="M2124,554.8V566M2222.4,554.8V566M2320.8,554.8V566M2419.1,554.8V566M2517.5,554.8V566M2615.9,554.8V566M2714.3,554.8V566M2812.6,554.8V566M2911,554.8V566" stroke-width="2"/>
<path d="M2173.2,554.8V560.7M2271.6,554.8V560.7M2369.9,554.8V560.7M2468.3,554.8V560.7M2566.7,554.8V560.7M2665.1,554.8V560.7M2763.4,554.8V560.7M2861.8,554.8V560.7" stroke-width="2"/>
<path d="M2112.5,518.5H2124M2112.5,408.1H2124M2112.5,297.6H2124M2112.5,187.2H2124M2112.5,76.7H2124" stroke-width="2"/>
<path d="M2118,463.3H2124M2118,352.9H2124M2118,242.4H2124M2118,132H2124M2118,21.5H2124" stroke-width="2"/>
</g>
<g font-size="32" fill="#000" text-anchor="middle" font-family="Liberation Serif, serif">
<text x="2124" y="601" textLength="55" lengthAdjust="spacingAndGlyphs">-2.0</text>
<text x="2221.4" y="601" textLength="55" lengthAdjust="spacingAndGlyphs">-1.5</text>
<text x="2319.8" y="601" textLength="55" lengthAdjust="spacingAndGlyphs">-1.0</text>
<text x="2418.1" y="601" textLength="55" lengthAdjust="spacingAndGlyphs">-0.5</text>
<text x="2517.5" y="601" textLength="42" lengthAdjust="spacingAndGlyphs">0.0</text>
<text x="2615.9" y="601" textLength="42" lengthAdjust="spacingAndGlyphs">0.5</text>
<text x="2714.3" y="601" textLength="42" lengthAdjust="spacingAndGlyphs">1.0</text>
<text x="2812.6" y="601" textLength="42" lengthAdjust="spacingAndGlyphs">1.5</text>
<text x="2911" y="601" textLength="42" lengthAdjust="spacingAndGlyphs">2.0</text>
</g>
<g font-size="32" fill="#000" text-anchor="end" font-family="Liberation Serif, serif">
<text x="2105" y="529.5" textLength="60" lengthAdjust="spacingAndGlyphs">0.00</text>
<text x="2105" y="419.1" textLength="60" lengthAdjust="spacingAndGlyphs">0.15</text>
<text x="2105" y="308.6" textLength="60" lengthAdjust="spacingAndGlyphs">0.30</text>
<text x="2105" y="198.2" textLength="60" lengthAdjust="spacingAndGlyphs">0.45</text>
<text x="2105" y="87.7" textLength="60" lengthAdjust="spacingAndGlyphs">0.60</text>
</g>
<g font-family="Liberation Serif, serif" fill="#000">
<text x="2130" y="49" font-size="40" textLength="47" lengthAdjust="spacingAndGlyphs">(c)</text>
<text x="2479" y="645" font-size="40" textLength="121" lengthAdjust="spacingAndGlyphs"><tspan font-style="italic">R</tspan> (cm)</text>
<text transform="translate(2023,459) rotate(-90)" font-size="46" textLength="279" lengthAdjust="spacingAndGlyphs"><tspan font-style="italic">n</tspan><tspan dy="10" font-size="40">e</tspan><tspan dy="-10"> (× 10</tspan><tspan dy="-33" font-size="35">16</tspan><tspan dy="30" font-size="36">m</tspan><tspan dy="-27" font-size="35">-3</tspan><tspan dy="30">)</tspan></text>
</g>

<g transform="translate(2517.5,518.5) scale(19.675,-0.7363)">
<g fill="#000"><polyline fill="none" stroke="#000" stroke-width="2" vector-effect="non-scaling-stroke" points="-16,9 -15,20 -14,35 -13,54 -12,83 -11,100 -10,106 -9,115 -8,123 -7,132 -6,119 -5,120 -4,127 -3,132 -2,132 -1,139 0,149 1,139 2,132 3,132 4,127 5,120 6,119 7,132 8,123 9,115 10,106 11,100 12,83 13,54 14,35 15,20 16,9"/>
<use href="#cS" x="-16" y="9"/><use href="#cS" x="-15" y="20"/><use href="#cS" x="-14" y="35"/><use href="#cS" x="-13" y="54"/><use href="#cS" x="-12" y="83"/><use href="#cS" x="-11" y="100"/><use href="#cS" x="-10" y="106"/><use href="#cS" x="-9" y="115"/><use href="#cS" x="-8" y="123"/><use href="#cS" x="-7" y="132"/><use href="#cS" x="-6" y="119"/><use href="#cS" x="-5" y="120"/><use href="#cS" x="-4" y="127"/><use href="#cS" x="-3" y="132"/><use href="#cS" x="-2" y="132"/><use href="#cS" x="-1" y="139"/><use href="#cS" x="0" y="149"/><use href="#cS" x="1" y="139"/><use href="#cS" x="2" y="132"/><use href="#cS" x="3" y="132"/><use href="#cS" x="4" y="127"/><use href="#cS" x="5" y="120"/><use href="#cS" x="6" y="119"/><use href="#cS" x="7" y="132"/><use href="#cS" x="8" y="123"/><use href="#cS" x="9" y="115"/><use href="#cS" x="10" y="106"/><use href="#cS" x="11" y="100"/><use href="#cS" x="12" y="83"/><use href="#cS" x="13" y="54"/><use href="#cS" x="14" y="35"/><use href="#cS" x="15" y="20"/><use href="#cS" x="16" y="9"/></g>
<g fill="#ff0000"><polyline fill="none" stroke="#ff0000" stroke-width="2" vector-effect="non-scaling-stroke" points="-16,5 -15,15 -14,34 -13,52 -12,70 -11,98 -10,103 -9,107 -8,117 -7,123 -6,127 -5,136 -4,132 -3,123 -2,132 -1,139 0,161 1,139 2,132 3,123 4,132 5,136 6,127 7,123 8,117 9,107 10,103 11,98 12,70 13,52 14,34 15,15 16,5"/>
<use href="#cC" x="-16" y="5"/><use href="#cC" x="-15" y="15"/><use href="#cC" x="-14" y="34"/><use href="#cC" x="-13" y="52"/><use href="#cC" x="-12" y="70"/><use href="#cC" x="-11" y="98"/><use href="#cC" x="-10" y="103"/><use href="#cC" x="-9" y="107"/><use href="#cC" x="-8" y="117"/><use href="#cC" x="-7" y="123"/><use href="#cC" x="-6" y="127"/><use href="#cC" x="-5" y="136"/><use href="#cC" x="-4" y="132"/><use href="#cC" x="-3" y="123"/><use href="#cC" x="-2" y="132"/><use href="#cC" x="-1" y="139"/><use href="#cC" x="0" y="161"/><use href="#cC" x="1" y="139"/><use href="#cC" x="2" y="132"/><use href="#cC" x="3" y="123"/><use href="#cC" x="4" y="132"/><use href="#cC" x="5" y="136"/><use href="#cC" x="6" y="127"/><use href="#cC" x="7" y="123"/><use href="#cC" x="8" y="117"/><use href="#cC" x="9" y="107"/><use href="#cC" x="10" y="103"/><use href="#cC" x="11" y="98"/><use href="#cC" x="12" y="70"/><use href="#cC" x="13" y="52"/><use href="#cC" x="14" y="34"/><use href="#cC" x="15" y="15"/><use href="#cC" x="16" y="5"/></g>
<g fill="#0000ff"><polyline fill="none" stroke="#0000ff" stroke-width="2" vector-effect="non-scaling-stroke" points="-16,2 -15,12 -14,33 -13,52 -12,81 -11,112 -10,117 -9,129 -8,135 -7,153 -6,172 -5,186 -4,192 -3,207 -2,228 -1,252 0,252 1,252 2,228 3,207 4,192 5,186 6,172 7,153 8,135 9,129 10,117 11,112 12,81 13,52 14,33 15,12 16,2"/>
<use href="#cU" x="-16" y="2"/><use href="#cU" x="-15" y="12"/><use href="#cU" x="-14" y="33"/><use href="#cU" x="-13" y="52"/><use href="#cU" x="-12" y="81"/><use href="#cU" x="-11" y="112"/><use href="#cU" x="-10" y="117"/><use href="#cU" x="-9" y="129"/><use href="#cU" x="-8" y="135"/><use href="#cU" x="-7" y="153"/><use href="#cU" x="-6" y="172"/><use href="#cU" x="-5" y="186"/><use href="#cU" x="-4" y="192"/><use href="#cU" x="-3" y="207"/><use href="#cU" x="-2" y="228"/><use href="#cU" x="-1" y="252"/><use href="#cU" x="0" y="252"/><use href="#cU" x="1" y="252"/><use href="#cU" x="2" y="228"/><use href="#cU" x="3" y="207"/><use href="#cU" x="4" y="192"/><use href="#cU" x="5" y="186"/><use href="#cU" x="6" y="172"/><use href="#cU" x="7" y="153"/><use href="#cU" x="8" y="135"/><use href="#cU" x="9" y="129"/><use href="#cU" x="10" y="117"/><use href="#cU" x="11" y="112"/><use href="#cU" x="12" y="81"/><use href="#cU" x="13" y="52"/><use href="#cU" x="14" y="33"/><use href="#cU" x="15" y="12"/><use href="#cU" x="16" y="2"/></g>
<g fill="#ff00ff"><polyline fill="none" stroke="#ff00ff" stroke-width="2" vector-effect="non-scaling-stroke" points="-16,3 -15,12 -14,35 -13,54 -12,89 -11,115 -10,137 -9,160 -8,161 -7,211 -6,234 -5,274 -4,289 -3,295 -2,315 -1,333 0,333 1,333 2,325 3,295 4,289 5,274 6,234 7,211 8,161 9,160 10,137 11,115 12,89 13,54 14,35 15,12 16,3"/>
<use href="#cD" x="-16" y="3"/><use href="#cD" x="-15" y="12"/><use href="#cD" x="-14" y="35"/><use href="#cD" x="-13" y="54"/><use href="#cD" x="-12" y="89"/><use href="#cD" x="-11" y="115"/><use href="#cD" x="-10" y="137"/><use href="#cD" x="-9" y="160"/><use href="#cD" x="-8" y="161"/><use href="#cD" x="-7" y="211"/><use href="#cD" x="-6" y="234"/><use href="#cD" x="-5" y="274"/><use href="#cD" x="-4" y="289"/><use href="#cD" x="-3" y="295"/><use href="#cD" x="-2" y="315"/><use href="#cD" x="-1" y="333"/><use href="#cD" x="0" y="333"/><use href="#cD" x="1" y="333"/><use href="#cD" x="2" y="325"/><use href="#cD" x="3" y="295"/><use href="#cD" x="4" y="289"/><use href="#cD" x="5" y="274"/><use href="#cD" x="6" y="234"/><use href="#cD" x="7" y="211"/><use href="#cD" x="8" y="161"/><use href="#cD" x="9" y="160"/><use href="#cD" x="10" y="137"/><use href="#cD" x="11" y="115"/><use href="#cD" x="12" y="89"/><use href="#cD" x="13" y="54"/><use href="#cD" x="14" y="35"/><use href="#cD" x="15" y="12"/><use href="#cD" x="16" y="3"/></g>
<g fill="#008000"><polyline fill="none" stroke="#008000" stroke-width="2" vector-effect="non-scaling-stroke" points="-16,0 -15,9 -14,34 -13,62 -12,94 -11,123 -10,156 -9,182 -8,211 -7,226 -6,252 -5,268 -4,306 -3,355 -2,369 -1,395 0,408 1,395 2,369 3,355 4,306 5,268 6,252 7,226 8,211 9,182 10,156 11,123 12,94 13,62 14,34 15,9 16,0"/>
<use href="#cM" x="-16" y="0"/><use href="#cM" x="-15" y="9"/><use href="#cM" x="-14" y="34"/><use href="#cM" x="-13" y="62"/><use href="#cM" x="-12" y="94"/><use href="#cM" x="-11" y="123"/><use href="#cM" x="-10" y="156"/><use href="#cM" x="-9" y="182"/><use href="#cM" x="-8" y="211"/><use href="#cM" x="-7" y="226"/><use href="#cM" x="-6" y="252"/><use href="#cM" x="-5" y="268"/><use href="#cM" x="-4" y="306"/><use href="#cM" x="-3" y="355"/><use href="#cM" x="-2" y="369"/><use href="#cM" x="-1" y="395"/><use href="#cM" x="0" y="408"/><use href="#cM" x="1" y="395"/><use href="#cM" x="2" y="369"/><use href="#cM" x="3" y="355"/><use href="#cM" x="4" y="306"/><use href="#cM" x="5" y="268"/><use href="#cM" x="6" y="252"/><use href="#cM" x="7" y="226"/><use href="#cM" x="8" y="211"/><use href="#cM" x="9" y="182"/><use href="#cM" x="10" y="156"/><use href="#cM" x="11" y="123"/><use href="#cM" x="12" y="94"/><use href="#cM" x="13" y="62"/><use href="#cM" x="14" y="34"/><use href="#cM" x="15" y="9"/><use href="#cM" x="16" y="0"/></g>
<g fill="#000080"><polyline fill="none" stroke="#000080" stroke-width="2" vector-effect="non-scaling-stroke" points="-16,9 -15,20 -14,54 -13,76 -12,109 -11,148 -10,194 -9,218 -8,245 -7,245 -6,246 -5,251 -4,279 -3,286 -2,295 -1,301 0,301 1,301 2,295 3,286 4,279 5,251 6,246 7,245 8,245 9,218 10,194 11,148 12,109 13,76 14,54 15,20 16,9"/>
<use href="#cL" x="-16" y="9"/><use href="#cL" x="-15" y="20"/><use href="#cL" x="-14" y="54"/><use href="#cL" x="-13" y="76"/><use href="#cL" x="-12" y="109"/><use href="#cL" x="-11" y="148"/><use href="#cL" x="-10" y="194"/><use href="#cL" x="-9" y="218"/><use href="#cL" x="-8" y="245"/><use href="#cL" x="-7" y="245"/><use href="#cL" x="-6" y="246"/><use href="#cL" x="-5" y="251"/><use href="#cL" x="-4" y="279"/><use href="#cL" x="-3" y="286"/><use href="#cL" x="-2" y="295"/><use href="#cL" x="-1" y="301"/><use href="#cL" x="0" y="301"/><use href="#cL" x="1" y="301"/><use href="#cL" x="2" y="295"/><use href="#cL" x="3" y="286"/><use href="#cL" x="4" y="279"/><use href="#cL" x="5" y="251"/><use href="#cL" x="6" y="246"/><use href="#cL" x="7" y="245"/><use href="#cL" x="8" y="245"/><use href="#cL" x="9" y="218"/><use href="#cL" x="10" y="194"/><use href="#cL" x="11" y="148"/><use href="#cL" x="12" y="109"/><use href="#cL" x="13" y="76"/><use href="#cL" x="14" y="54"/><use href="#cL" x="15" y="20"/><use href="#cL" x="16" y="9"/></g>
</g>

<!-- legend C -->
<g stroke-width="2">
<line x1="2636" y1="36" x2="2697" y2="36" stroke="#000"/>
<line x1="2636" y1="90.5" x2="2697" y2="90.5" stroke="#ff0000"/>
<line x1="2636" y1="145" x2="2697" y2="145" stroke="#0000ff"/>
<line x1="2636" y1="199.5" x2="2697" y2="199.5" stroke="#ff00ff"/>
<line x1="2636" y1="254" x2="2697" y2="254" stroke="#008000"/>
<line x1="2636" y1="308.5" x2="2697" y2="308.5" stroke="#000080"/>
</g>
<use href="#sq" x="2666.5" y="36" fill="#000"/>
<use href="#ci" x="2666.5" y="90.5" fill="#ff0000"/>
<use href="#tu" x="2666.5" y="145" fill="#0000ff"/>
<use href="#td" x="2666.5" y="199.5" fill="#ff00ff"/>
<use href="#di" x="2666.5" y="254" fill="#008000"/>
<use href="#tl" x="2666.5" y="308.5" fill="#000080"/>
<g font-size="36" fill="#000" font-family="Liberation Serif, serif">
<text x="2702" y="46.5" textLength="165" lengthAdjust="spacingAndGlyphs"><tspan font-style="italic">D</tspan> = 0 cm</text>
<text x="2707" y="101" textLength="198" lengthAdjust="spacingAndGlyphs"><tspan font-style="italic">D</tspan> = 0.4 cm</text>
<text x="2707" y="155.5" textLength="198" lengthAdjust="spacingAndGlyphs"><tspan font-style="italic">D</tspan> = 0.7 cm</text>
<text x="2707" y="210" textLength="163" lengthAdjust="spacingAndGlyphs"><tspan font-style="italic">D</tspan> = 1 cm</text>
<text x="2707" y="264.5" textLength="198" lengthAdjust="spacingAndGlyphs"><tspan font-style="italic">D</tspan> = 1.5 cm</text>
<text x="2707" y="319" textLength="163" lengthAdjust="spacingAndGlyphs"><tspan font-style="italic">D</tspan> = 2 cm</text>
</g>
</svg>
</body></html>
